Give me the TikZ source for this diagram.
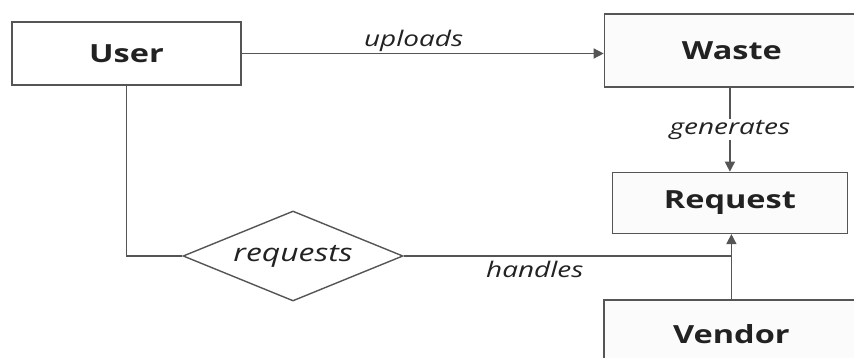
\documentclass[tikz,border=0pt]{standalone}
\usepackage{fontspec}
\setmainfont{Open Sans}[FakeStretch=1.3]
\usepackage{xcolor}
\usetikzlibrary{arrows.meta,positioning,shapes.geometric}

\definecolor{edgegray}{HTML}{555555}
\definecolor{textdark}{HTML}{222222}

\begin{document}
\begin{tikzpicture}[
  every node/.style={text=textdark},
  entity/.style={rectangle, draw=edgegray, line width=1.4pt, fill=gray!3,
    inner sep=0pt, font=\fontsize{25}{30}\selectfont\bfseries},
  relation/.style={diamond, draw=edgegray, line width=1.4pt, fill=white,
    inner sep=0pt, shape aspect=2.44, minimum width=220pt, minimum height=90pt,
    font=\fontsize{24.5}{28}\selectfont\itshape},
  link/.style={draw=edgegray, line width=1.4pt},
  arr/.style={link, -{Triangle[length=10pt,width=10pt]}},
  lbl/.style={font=\fontsize{21.5}{25}\selectfont\itshape, inner sep=1pt},
]
\useasboundingbox (0pt,0pt) rectangle (854pt,-358pt);

% === Entities ===
\node[entity, fill=white, minimum width=229pt, minimum height=63pt] (user) at (126.5pt,-53.5pt) {User};
\node[entity, minimum width=255pt, minimum height=73pt, right=362pt of user, yshift=3pt] (waste) {Waste};
\node[entity, minimum width=235pt, minimum height=61pt, below=84pt of waste, xshift=-2pt] (request) {Request};
\node[entity, minimum width=255pt, minimum height=68pt, below=65pt of request, xshift=1.5pt] (vendor) {Vendor};

% === Relationship ===
\node[relation] (requests) at (293pt,-256pt) {requests};
\coordinate (join) at (requests.east -| vendor.north);

% === Connectors ===
\draw[arr] (user.east) -- node[lbl, above, pos=0.475] {uploads} (user.east -| waste.west);
\draw[arr] (waste.south -| request.north) -- node[lbl, fill=white] {generates} (request.north);
\draw[link] (user.south) |- (requests.west);
\draw[link] (requests.east) -- node[lbl, below=3pt, pos=0.4] {handles} (join);
\draw[arr] (vendor.north) -- (vendor.north |- request.south);

\end{tikzpicture}
\end{document}
